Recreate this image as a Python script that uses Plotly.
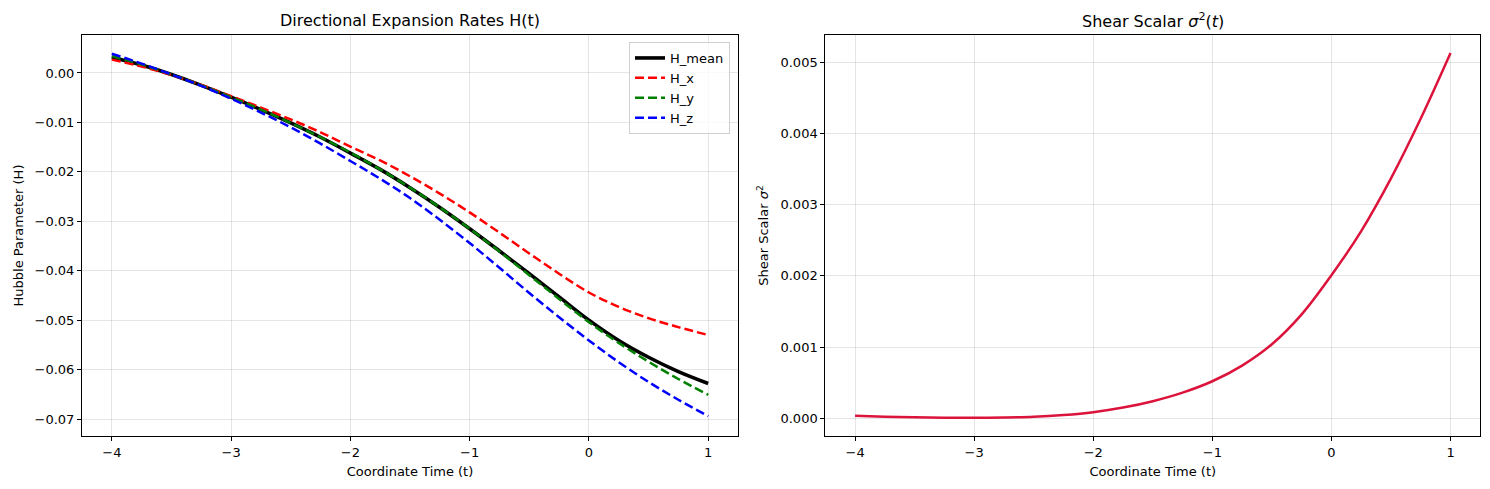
import plotly.graph_objects as go

t = [-4.0, -3.75, -3.5, -3.25, -3.0, -2.75, -2.5, -2.25, -2.0, -1.75, -1.5, -1.25, -1.0,
     -0.75, -0.5, -0.25, 0.0, 0.25, 0.5, 0.75, 1.0]
H_mean = [0.0032, 0.0016, -0.0003, -0.0025, -0.0049, -0.0074, -0.0101, -0.0130, -0.0162, -0.0195,
          -0.0232, -0.0272, -0.0315, -0.0360, -0.0406, -0.0453, -0.0500, -0.0541, -0.0575, -0.0604, -0.0628]
H_x = [0.0027, 0.0013, -0.0004, -0.0024, -0.0047, -0.0070, -0.0094, -0.0120, -0.0149, -0.0177,
       -0.0209, -0.0244, -0.0282, -0.0323, -0.0365, -0.0406, -0.0444, -0.0473, -0.0496, -0.0514, -0.0530]
H_y = [0.0034, 0.0017, -0.0003, -0.0025, -0.0049, -0.0074, -0.0101, -0.0130, -0.0161, -0.0195,
       -0.0232, -0.0272, -0.0315, -0.0361, -0.0409, -0.0457, -0.0504, -0.0546, -0.0584, -0.0619, -0.0651]
H_z = [0.0039, 0.0019, -0.0003, -0.0026, -0.0052, -0.0080, -0.0110, -0.0143, -0.0178, -0.0214,
       -0.0253, -0.0297, -0.0344, -0.0394, -0.0445, -0.0494, -0.0541, -0.0585, -0.0625, -0.0661, -0.0694]
sigma2 = [0.000035, 0.000022, 0.000013, 0.000008, 0.000007, 0.000010, 0.000020, 0.000045, 0.000085,
          0.00015, 0.00024, 0.00036, 0.00052, 0.00074, 0.00104, 0.00146, 0.00201, 0.00263, 0.00337,
          0.00421, 0.00513]

x_ticks = [-4, -3, -2, -1, 0, 1]
x_tick_text = ["\u22124", "\u22123", "\u22122", "\u22121", "0", "1"]
h_ticks = [0.0, -0.01, -0.02, -0.03, -0.04, -0.05, -0.06, -0.07]
h_tick_text = ["0.00", "\u22120.01", "\u22120.02", "\u22120.03", "\u22120.04", "\u22120.05", "\u22120.06", "\u22120.07"]
s_ticks = [0.0, 0.001, 0.002, 0.003, 0.004, 0.005]
s_tick_text = ["0.000", "0.001", "0.002", "0.003", "0.004", "0.005"]

FONT = "DejaVu Sans"
fig = go.Figure()

fig.add_trace(go.Scatter(x=t, y=H_mean, name="H_mean", mode="lines",
                         line=dict(color="black", width=3.6, shape="spline", smoothing=1),
                         xaxis="x", yaxis="y"))
fig.add_trace(go.Scatter(x=t, y=H_x, name="H_x", mode="lines",
                         line=dict(color="red", width=2.5, dash="9px,4px", shape="spline", smoothing=1),
                         xaxis="x", yaxis="y"))
fig.add_trace(go.Scatter(x=t, y=H_y, name="H_y", mode="lines",
                         line=dict(color="green", width=2.5, dash="9px,4px", shape="spline", smoothing=1),
                         xaxis="x", yaxis="y"))
fig.add_trace(go.Scatter(x=t, y=H_z, name="H_z", mode="lines",
                         line=dict(color="blue", width=2.5, dash="9px,4px", shape="spline", smoothing=1),
                         xaxis="x", yaxis="y"))
fig.add_trace(go.Scatter(x=t, y=sigma2, name="sigma2", mode="lines", showlegend=False,
                         line=dict(color="crimson", width=2.5, shape="spline", smoothing=1),
                         xaxis="x2", yaxis="y2"))

axis_common = dict(showline=True, linecolor="black", linewidth=1, mirror=True,
                   ticks="outside", ticklen=4, tickcolor="black",
                   showgrid=True, gridcolor="rgba(0,0,0,0.1)", gridwidth=1,
                   zeroline=False, tickfont=dict(family=FONT, size=13, color="black"))

fig.update_layout(
    width=1490, height=489,
    margin=dict(l=0, r=0, t=0, b=0),
    paper_bgcolor="white", plot_bgcolor="white",
    font=dict(family=FONT, color="black"),
    xaxis=dict(domain=[82/1490, 738/1490], range=[-4.25, 1.25], tickvals=x_ticks, ticktext=x_tick_text,
               title=dict(text="Coordinate Time (t)", font=dict(family=FONT, size=13), standoff=8),
               anchor="y", **axis_common),
    yaxis=dict(domain=[1-436/489, 1-35/489], range=[-0.07343, 0.00768], tickvals=h_ticks, ticktext=h_tick_text,
               title=dict(text="Hubble Parameter (H)", font=dict(family=FONT, size=13), standoff=8),
               anchor="x", **axis_common),
    xaxis2=dict(domain=[825.3/1490, 1480.3/1490], range=[-4.25, 1.25], tickvals=x_ticks, ticktext=x_tick_text,
                title=dict(text="Coordinate Time (t)", font=dict(family=FONT, size=13), standoff=8),
                anchor="y2", **axis_common),
    yaxis2=dict(domain=[1-436/489, 1-35/489], range=[-0.000249, 0.005384], tickvals=s_ticks, ticktext=s_tick_text,
                title=dict(text="Shear Scalar <i>σ</i><sup>2</sup>", font=dict(family=FONT, size=13), standoff=8),
                anchor="x2", **axis_common),
    legend=dict(x=730/1490, y=1-42/489, xanchor="right", yanchor="top",
                bgcolor="rgba(255,255,255,0.8)", bordercolor="#d0d0d0", borderwidth=1,
                font=dict(family=FONT, size=13, color="black"), tracegroupgap=0,
                itemwidth=30),
    annotations=[
        dict(text="Directional Expansion Rates H(t)", x=(82+738)/2/1490, y=1-21/489, xref="paper", yref="paper",
             xanchor="center", yanchor="middle", showarrow=False, font=dict(family=FONT, size=16, color="black")),
        dict(text="Shear Scalar <i>σ</i><sup>2</sup>(<i>t</i>)", x=(825.3+1480.3)/2/1490, y=1-21/489,
             xref="paper", yref="paper", xanchor="center", yanchor="middle", showarrow=False,
             font=dict(family=FONT, size=16, color="black")),
    ],
)

fig.write_html("out.html")
